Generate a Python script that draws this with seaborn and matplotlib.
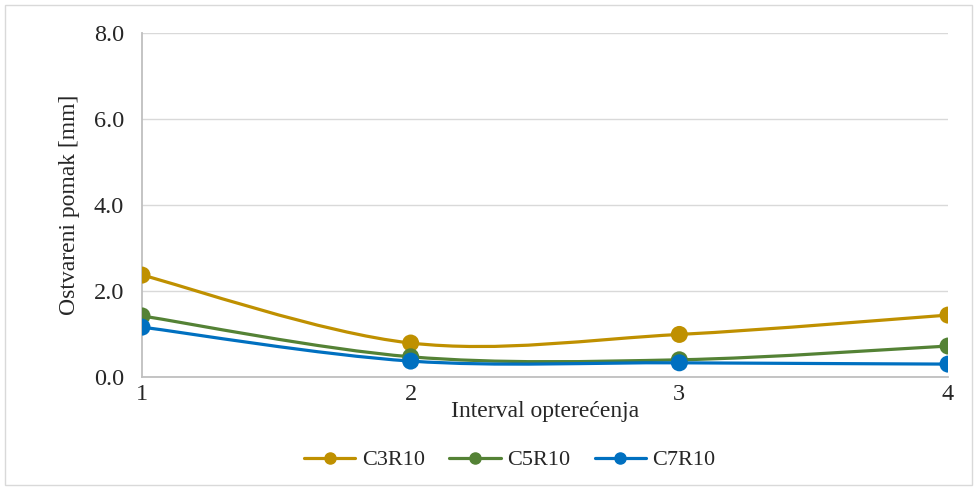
import numpy as np
import pandas as pd
import seaborn as sns
import matplotlib.pyplot as plt
from matplotlib.path import Path
from matplotlib.patches import PathPatch, Rectangle
from matplotlib.lines import Line2D

# Data
intervals = [1, 2, 3, 4]
c3r10 = [2.37, 0.79, 0.99, 1.44]
c5r10 = [1.42, 0.47, 0.40, 0.72]
c7r10 = [1.16, 0.37, 0.33, 0.30]
series_names = ['C3R10', 'C5R10', 'C7R10']
colors = ['#BF9000', '#548235', '#0070C0']

sns.set_style('white')
plt.rcParams['font.family'] = ['Liberation Serif', 'DejaVu Serif']

df = pd.DataFrame({'Interval': intervals * 3,
                   'Pomak': c3r10 + c5r10 + c7r10,
                   'Serija': [s for s in series_names for _ in intervals]})

fig = plt.figure(figsize=(9.79, 4.9), dpi=100)
ax = fig.add_axes([142 / 979, 1 - 377 / 490, (948 - 142) / 979, (377 - 33) / 490])

# outer chart border like Excel
fig.patches.append(Rectangle((5 / 979, 5 / 490), 967 / 979, 480 / 490, transform=fig.transFigure,
                             fill=False, edgecolor='#D9D9D9', linewidth=1))


def smooth_path(xs, ys):
    # Excel-like smoothed line: cubic Bezier with Catmull-Rom control points
    verts = [(xs[0], ys[0])]
    codes = [Path.MOVETO]
    n = len(xs)
    for i in range(n - 1):
        x0, y0 = (xs[i - 1], ys[i - 1]) if i > 0 else (xs[i], ys[i])
        x3, y3 = (xs[i + 2], ys[i + 2]) if i + 2 < n else (xs[i + 1], ys[i + 1])
        x1, y1 = xs[i], ys[i]
        x2, y2 = xs[i + 1], ys[i + 1]
        c1 = (x1 + (x2 - x0) / 6, y1 + (y2 - y0) / 6)
        c2 = (x2 - (x3 - x1) / 6, y2 - (y3 - y1) / 6)
        verts += [c1, c2, (x2, y2)]
        codes += [Path.CURVE4] * 3
    return Path(verts, codes)


for name, col in zip(series_names, colors):
    sub = df[df['Serija'] == name]
    ax.add_patch(PathPatch(smooth_path(list(sub['Interval']), list(sub['Pomak'])),
                           fill=False, edgecolor=col, linewidth=2.3, zorder=3))

sns.scatterplot(data=df, x='Interval', y='Pomak', hue='Serija', palette=colors,
                s=150, edgecolor='none', zorder=4, legend=False, ax=ax)

ax.set_xlim(1, 4)
ax.set_ylim(0, 8)
ax.set_xticks(intervals)
ax.set_yticks([0, 2, 4, 6, 8])
ax.set_yticklabels(['0.0', '2.0', '4.0', '6.0', '8.0'])
ax.tick_params(axis='both', labelsize=17.5, colors='#262626', length=0)
ax.tick_params(axis='x', pad=5)
ax.tick_params(axis='y', pad=13)
ax.grid(axis='y', color='#D9D9D9', linewidth=1)
for side in ['top', 'right']:
    ax.spines[side].set_visible(False)
for side in ['left', 'bottom']:
    ax.spines[side].set_color('#BFBFBF')
    ax.spines[side].set_linewidth(1.3)
ax.set_xlabel('Interval opterećenja', fontsize=17, color='#262626', labelpad=-3)
ax.set_ylabel('Ostvareni pomak [mm]', fontsize=17, color='#262626', labelpad=10)

handles = [Line2D([0], [0], color=c, linewidth=2.3, marker='o', markersize=8) for c in colors]
fig.legend(handles, series_names, loc='center', bbox_to_anchor=(510 / 979, 1 - 460 / 490),
           ncol=3, frameon=False, fontsize=16, handlelength=2.3, columnspacing=1.1,
           handletextpad=0.3)

fig.savefig('out.png', dpi=100)
